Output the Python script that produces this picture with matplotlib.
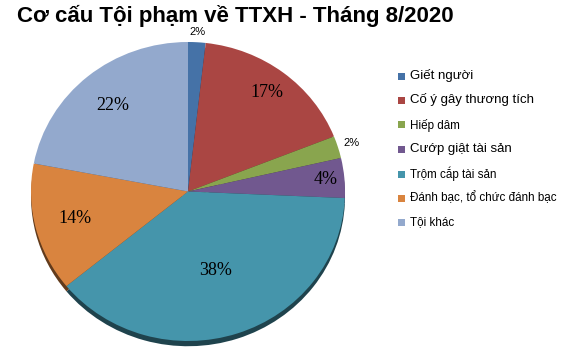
import numpy as np
import matplotlib
matplotlib.use("Agg")
import matplotlib.pyplot as plt
from matplotlib.patches import Rectangle
from matplotlib.colors import to_rgb

categories = ["Giết người", "Cố ý gây thương tích", "Hiếp dâm", "Cướp giật tài sản",
              "Trộm cắp tài sản", "Đánh bạc, tổ chức đánh bạc", "Tội khác"]
shares = [1.8, 17.2, 2.4, 4.3, 38.4, 13.9, 22.0]
colors = ["#4572a7", "#aa4643", "#89a54e", "#71588f", "#4595ab", "#d9843f", "#93a9cd"]

# label placement (radius in pie units), size, font
label_r = [1.07, 0.83, 1.09, 0.88, 0.56, 0.74, 0.75]
label_inside = [False, True, False, True, True, True, True]
legend_big = [True, True, False, True, False, False, False]

fig = plt.figure(figsize=(5.65, 3.47), dpi=100)
ax = fig.add_axes([31 / 565, 6 / 347, 314 / 565, 299 / 347])

def darker(c, f=0.45):
    r, g, b = to_rgb(c)
    return (r * f, g * f, b * f)

# side of the 3d pie: darker copy shifted down
ax.pie(shares, colors=[darker(c) for c in colors], startangle=90, counterclock=False,
       center=(0, -0.035), radius=1, frame=True,
       wedgeprops=dict(linewidth=0, clip_on=False))
ax.pie(shares, colors=colors, startangle=90, counterclock=False,
       center=(0, 0), radius=1, frame=True,
       wedgeprops=dict(linewidth=0, clip_on=False))
ax.set_xlim(-1, 1)
ax.set_ylim(-1, 1)
ax.set_aspect("auto")
ax.axis("off")

total = sum(shares)
cum = 0
for v, r, inside in zip(shares, label_r, label_inside):
    mid = (cum + v / 2) / total * 2 * np.pi
    cum += v
    x, y = r * np.sin(mid), r * np.cos(mid)
    txt = f"{round(v / total * 100):.0f}%"
    if inside:
        ax.text(x, y, txt, ha="center", va="center", fontsize=13,
                family="Liberation Serif", clip_on=False)
    else:
        ax.text(x, y, txt, ha="center", va="center", fontsize=8,
                family="Liberation Sans", clip_on=False)

fig.text(235 / 565, 1 - 16 / 347, "Cơ cấu Tội phạm về TTXH - Tháng 8/2020",
         ha="center", va="center", fontsize=16, fontweight="bold",
         family="Liberation Sans")

# legend
ys = [76, 100, 125, 149, 174, 198, 222]
for name, c, yy, big in zip(categories, colors, ys, legend_big):
    fig.add_artist(Rectangle((398 / 565, 1 - (yy + 3.5) / 347), 7 / 565, 7 / 347,
                             transform=fig.transFigure, color=c, lw=0))
    fig.text(410 / 565, 1 - yy / 347, name, ha="left", va="center",
             fontsize=9.5 if big else 8.4, family="Liberation Sans")

fig.savefig("out.png", dpi=100)
